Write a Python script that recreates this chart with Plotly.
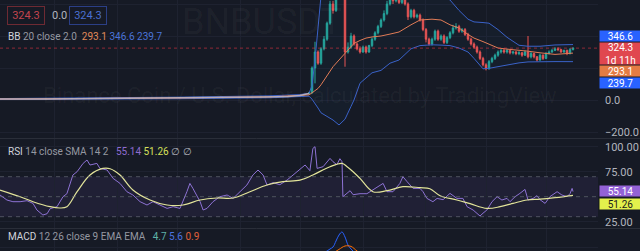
import plotly.graph_objects as go

W, H = 640, 251
PLOT_W = 598

# ---------------- data ----------------
early_bar = [0, 8, 16, 24, 32, 40, 48, 56, 64, 72, 80, 88, 96, 100, 103]
early_close = [6, 5, 7, 8, 9, 11, 14, 13, 16, 15, 17, 19, 22, 28, 40]

first_candle_bar = 103
opens = [40, 44, 200, 300, 230, 320, 380, 480, 600, 560, 700, 650, 720, 300, 330, 400, 350, 320, 300, 330,
         300, 340, 380, 420, 460, 500, 540, 600, 650, 620, 660, 610, 640, 600, 520, 560, 520, 530, 500, 440,
         380, 350, 380, 430, 380, 400, 360, 390, 420, 450, 460, 430, 440, 410, 380, 350, 330, 300, 260, 220,
         195, 240, 260, 280, 300, 310, 300, 310, 295, 300, 290, 295, 280, 300, 270, 290, 270, 250, 280, 260,
         290, 300, 310, 320, 315, 300, 310, 290, 315]
highs = [50, 210, 364, 310, 330, 400, 490, 620, 620, 720, 720, 760, 740, 360, 420, 410, 360, 335, 340, 340,
         345, 390, 430, 470, 510, 560, 620, 680, 660, 680, 670, 660, 650, 610, 570, 570, 540, 540, 510, 450,
         390, 390, 440, 440, 410, 410, 400, 430, 470, 480, 470, 450, 450, 420, 390, 360, 340, 310, 270, 230,
         250, 270, 290, 310, 320, 320, 320, 315, 305, 305, 305, 300, 310, 400, 300, 295, 275, 290, 285, 300,
         310, 320, 330, 330, 320, 315, 315, 325, 330]
lows = [38, 40, 104, 220, 220, 310, 370, 470, 540, 550, 630, 640, 208, 290, 320, 340, 310, 290, 295, 290,
        295, 330, 370, 410, 450, 490, 530, 590, 600, 610, 600, 600, 590, 500, 510, 510, 510, 490, 430, 360,
        340, 340, 370, 370, 370, 350, 350, 380, 410, 440, 420, 420, 400, 370, 340, 320, 290, 250, 210, 185,
        190, 230, 250, 270, 290, 290, 290, 285, 285, 280, 280, 270, 275, 260, 260, 260, 240, 245, 250, 255,
        285, 295, 305, 305, 295, 295, 280, 285, 310]
closes = [44, 200, 300, 230, 320, 380, 480, 600, 560, 700, 650, 720, 300, 330, 400, 350, 320, 300, 330, 300,
          340, 380, 420, 460, 500, 540, 600, 650, 620, 660, 610, 640, 600, 520, 560, 520, 530, 500, 440, 380,
          350, 380, 430, 380, 400, 360, 390, 420, 450, 460, 430, 440, 410, 380, 350, 330, 300, 260, 220, 195,
          240, 260, 280, 300, 310, 300, 310, 295, 300, 290, 295, 280, 300, 270, 290, 270, 250, 280, 260, 290,
          300, 310, 320, 315, 300, 310, 290, 315, 324.3]

bb_bar = [0, 30, 60, 90, 100, 103, 104, 105, 106, 107, 109, 111, 113, 115, 117, 118, 120, 122, 124, 127,
          130, 133, 137, 140, 144, 147, 150, 153, 156, 158, 161, 163, 166, 169, 173, 176, 180, 185, 191]
bb_basis = [6, 9, 13, 20, 26, 32, 45, 60, 72, 95, 150, 208, 250, 292, 335, 354, 372, 387, 394, 400,
            412, 425, 470, 500, 505, 500, 470, 450, 410, 387, 365, 350, 325, 318, 312, 305, 295, 285, 293.1]
bb_upper = [9, 13, 18, 26, 34, 42, 90, 250, 450, 650, 800, 880, 920, 950, 960, 960, 960, 950, 930, 900,
            880, 860, 820, 780, 730, 660, 625, 560, 505, 488, 484, 480, 440, 392, 342, 336, 336, 344, 346.6]
bb_lower = [3, 5, 8, 14, 20, 24, 5, -20, -50, -80, -105, -125, -156, -120, -40, 0, 105, 140, 170, 185,
            230, 250, 320, 340, 345, 343, 340, 325, 300, 260, 195, 198, 208, 222, 232, 238, 240, 240, 239.7]

rsi_bar = [0, 2.3, 4.3, 6.7, 9, 11, 12.3, 14.3, 15.7, 16.7, 19, 21, 22.3, 24.3, 25.7, 27.7, 29, 30, 32.3, 33.3,
           35.7, 37.7, 40, 42.3, 44.3, 46.7, 49, 51, 53.3, 55.7, 57.7, 60, 62.3, 63.3, 64.3, 66.7, 67.7, 69, 71,
           73.3, 75.7, 77.7, 80, 82.3, 84.3, 86, 87.7, 89, 91, 93.3, 95.7, 97.7, 100, 101.7, 103.3, 104.3, 105,
           105.7, 107.7, 110, 111, 112.3, 113.3, 114, 114.3, 115.7, 116.7, 117.7, 120, 122.3, 124.3, 125.7,
           127.7, 129, 131, 133.3, 134.3, 135.7, 137.7, 140, 141, 142.3, 144.3, 145.7, 147.7, 150, 152.3, 154.3,
           155.7, 157.7, 160, 161, 162.3, 164, 165.7, 167.3, 169, 170, 171.7, 173.3, 175, 176, 177.7, 179, 180,
           181.7, 183.3, 185.7, 187.3, 189, 190, 190.7, 191]
rsi_val = [51.7, 46.7, 45, 45, 46, 43.3, 36.7, 31.7, 33, 38, 40, 50, 53, 71.7, 75, 83.3, 86.7, 81.7, 83.3, 78.3,
           76.7, 68.3, 63.3, 55, 51.7, 45, 41.7, 45, 41.7, 38.3, 40, 38.3, 55, 63.3, 58.3, 45, 36.7, 38.3, 45,
           50, 51.7, 48.3, 55, 61.7, 71.7, 76.7, 71.7, 61.7, 64, 62, 66.7, 71.7, 78.3, 81.7, 76, 98.3, 100,
           78.3, 80, 88.3, 85, 82, 88, 85, 50, 53, 56, 52, 53, 53, 56.7, 60,
           63.3, 55, 55, 63.3, 70, 65, 58.3, 58.3, 55, 48.3, 45, 48.3, 47, 53.3, 48.3, 48.3,
           40, 36.7, 30.7, 33.5, 36.7, 45, 50, 46.7, 48.3, 45, 50, 53.3, 57.3, 46.7, 48.3, 51, 47,
           43.3, 50, 55, 51.7, 50, 53, 58.3, 55.14]
rsi_sma_bar = [0, 6.7, 11, 16.7, 20, 22.3, 25.7, 30, 34.3, 36.7, 40, 44.3, 50, 55.7, 61, 66.7, 72.3, 77.7, 83.3,
               89, 94.3, 100, 104.3, 110, 114, 115.7, 117.7, 120, 124.3, 129, 134.3, 140, 143.3, 146.7, 152.3,
               156.7, 162.3, 166.7, 171, 175.7, 180, 185, 189, 191]
rsi_sma_val = [56.7, 50, 45, 40, 38.7, 40, 55, 71.7, 78.3, 78, 71.7, 56.7, 46.7, 41.7, 41.7, 46.7, 48.7, 48.7, 55,
               61.7, 65, 66.5, 71.7, 80, 83.3, 80, 75, 68.3, 55, 56, 60, 59, 58, 51, 46.7,
               43, 38.3, 40, 43.3, 46.7, 47.5, 49, 50.5, 51.26]

macd_bar = [105, 108, 110, 111, 112, 113, 114, 115, 116, 117, 119]
macd_val = [40, 70, 90, 100, 130, 160, 175, 150, 110, 90, 60]
signal_bar = [108, 111, 113, 115, 117, 119, 121]
signal_val = [50, 70, 88, 105, 103, 80, 60]

price_ticks = [600, 400, 200, 0, -200]
price_tick_text = ["600.0", "", "", "0.0", "\u2212200.0"]
rsi_ticks = [100, 75, 50, 25]
rsi_tick_text = ["100.00", "75.00", "", "25.00"]
macd_ticks = [100]
macd_tick_text = ["100.0"]
rsi_levels = [70, 50, 30]
grid_bars = [18.3, 39, 59.3, 80, 100, 121, 141.7, 162.3, 182.3]
last_price = 324.3
macd_last, signal_last, hist_last = 4.7, 5.6, 0.9

# ---------------- styling ----------------
BG = "#161a25"
GRID = "#1e2230"
TXT = "#b2b5be"
UP, DOWN = "#26a69a", "#ef5350"
BLUE, ORANGE = "#3a62c8", "#e07b56"
RSI_C, SMA_C = "#8d72d4", "#e2e49a"
FONT = "Roboto"

candle_bars = list(range(first_candle_bar, first_candle_bar + len(closes)))

fig = go.Figure()

fig.add_trace(go.Scatter(x=bb_bar, y=bb_upper, mode="lines", line=dict(color=BLUE, width=1),
                         xaxis="x", yaxis="y", hoverinfo="skip"))
fig.add_trace(go.Scatter(x=bb_bar, y=bb_lower, mode="lines", line=dict(color=BLUE, width=1),
                         fill="tonexty", fillcolor="rgba(33,150,243,0.03)",
                         xaxis="x", yaxis="y", hoverinfo="skip"))
fig.add_trace(go.Scatter(x=bb_bar, y=bb_basis, mode="lines", line=dict(color=ORANGE, width=1),
                         xaxis="x", yaxis="y", hoverinfo="skip"))

fig.add_trace(go.Scatter(x=early_bar, y=early_close, mode="lines", line=dict(color="#b9aab4", width=1.5),
                         xaxis="x", yaxis="y", hoverinfo="skip"))

fig.add_trace(go.Candlestick(x=candle_bars, open=opens, high=highs, low=lows, close=closes,
                             increasing=dict(line=dict(color=UP, width=1), fillcolor=UP),
                             decreasing=dict(line=dict(color=DOWN, width=1), fillcolor=DOWN),
                             whiskerwidth=0, xaxis="x", yaxis="y", hoverinfo="skip"))

fig.add_trace(go.Scatter(x=rsi_bar, y=rsi_val, mode="lines", line=dict(color=RSI_C, width=1),
                         xaxis="x2", yaxis="y2", hoverinfo="skip"))
fig.add_trace(go.Scatter(x=rsi_sma_bar, y=rsi_sma_val, mode="lines",
                         line=dict(color=SMA_C, width=1.2, shape="spline"),
                         xaxis="x2", yaxis="y2", hoverinfo="skip"))

fig.add_trace(go.Scatter(x=macd_bar, y=macd_val, mode="lines", line=dict(color="#2962ff", width=1, shape="spline"),
                         xaxis="x3", yaxis="y3", hoverinfo="skip"))
fig.add_trace(go.Scatter(x=signal_bar, y=signal_val, mode="lines", line=dict(color="#ff6d00", width=1, shape="spline"),
                         xaxis="x3", yaxis="y3", hoverinfo="skip"))


def py(ypx):
    return 1 - ypx / H


def px(xpx):
    return xpx / PLOT_W


xr = [0, PLOT_W / 3]
xcommon = dict(range=xr, showticklabels=False, showgrid=True, gridcolor=GRID, gridwidth=1,
               tickvals=grid_bars, zeroline=False, showline=False, ticks="", fixedrange=True)
ycommon = dict(side="right", showgrid=True, gridcolor=GRID, zeroline=False, showline=False, ticks="",
               tickfont=dict(family=FONT, size=11, color=TXT), ticklabelstandoff=6)

shapes = []
shapes.append(dict(type="rect", xref="paper", yref="y2", x0=0, x1=1, y0=min(rsi_levels), y1=max(rsi_levels),
                   fillcolor="rgba(126,87,194,0.10)", line=dict(width=0), layer="below"))
for lv in rsi_levels:
    shapes.append(dict(type="line", xref="paper", yref="y2", x0=0, x1=1, y0=lv, y1=lv,
                       line=dict(color="rgba(120,123,134,0.55)", width=1, dash="4px,4px")))
shapes.append(dict(type="line", xref="paper", yref="y", x0=0, x1=1, y0=last_price, y1=last_price,
                   line=dict(color="rgba(242,54,69,0.55)", width=1, dash="dot")))
for sep in (138.5, 228.5):
    shapes.append(dict(type="line", xref="paper", yref="paper", x0=0, x1=W / PLOT_W, y0=py(sep), y1=py(sep),
                       line=dict(color="#2a2e39", width=1)))

ann = []


def text(xpx, ypx, t, size=11, color=TXT, xanchor="left", **kw):
    ann.append(dict(x=px(xpx), y=py(ypx), xref="paper", yref="paper", text=t, showarrow=False,
                    xanchor=xanchor, yanchor="middle", font=dict(family=FONT, size=size, color=color), **kw))


def sp(t, c):
    return f"<span style='color:{c}'>{t}</span>"


# watermarks
text(262, 22, "BNBUSDT", size=36, color="rgba(255,255,255,0.045)", xanchor="center")
text(300, 95, "Binance Coin / U.S. Dollar, calculated by TradingView", size=22,
     color="rgba(255,255,255,0.045)", xanchor="center")

# legend rows
text(7, 16, f"{last_price:.1f}", size=11, color="#c2454f", bordercolor="#6e2a33", borderwidth=1,
     borderpad=2, width=32)
text(50, 16, "0.0", size=11, color=TXT)
text(69, 16, f"{last_price:.1f}", size=11, color="#4a6fd0", bordercolor="#2b3f86", borderwidth=1,
     borderpad=2, width=32)
text(6, 37, sp("BB", "#d1d4dc") + " 20 close 2.0  " + sp(f"{bb_basis[-1]:.1f}", "#e08a5a") + " "
     + sp(f"{bb_upper[-1]:.1f}", "#4a74d8") + " " + sp(f"{bb_lower[-1]:.1f}", "#4a74d8"),
     size=10, color="#9598a1")
text(6, 151, sp("RSI", "#d1d4dc") + " 14 close SMA 14 2   " + sp(f"{rsi_val[-1]:.2f}", "#8e6cd0") + " "
     + sp(f"{rsi_sma_val[-1]:.2f}", "#d6e05a") + " " + sp("\u2205 \u2205", TXT), size=10, color="#9598a1")
text(6, 236, sp("MACD", "#d1d4dc") + " 12 26 close 9 EMA EMA   " + sp(f"{macd_last}", "#5fb2a8") + " "
     + sp(f"{signal_last}", "#4d74e0") + " " + sp(f"{hist_last}", "#e0603a"), size=10, color="#9598a1")


def label(ypx, t, bg, fg="#ffffff", h=10):
    ann.append(dict(x=1, y=py(ypx), xref="paper", yref="paper", text=t, showarrow=False,
                    xanchor="left", yanchor="middle", xshift=1, width=41, height=h, bgcolor=bg,
                    borderpad=0, align="center", font=dict(family=FONT, size=10, color=fg)))


label(36, f"{bb_upper[-1]:.1f}", "#2962ff")
label(53.5, f"{last_price:.1f}<br>1d 11h", "#e0474f", h=21)
label(71.5, f"{bb_basis[-1]:.1f}", "#e47c44")
label(83.5, f"{bb_lower[-1]:.1f}", "#2962ff")
label(190.5, f"{rsi_val[-1]:.2f}", "#9362d6")
label(203.5, f"{rsi_sma_val[-1]:.2f}", "#e3f04c", fg="#1a1a1a")

fig.update_layout(
    width=W, height=H, margin=dict(l=0, r=W - PLOT_W, t=0, b=0),
    paper_bgcolor=BG, plot_bgcolor=BG, showlegend=False, hovermode=False,
    xaxis=dict(domain=[0, 1], anchor="y", rangeslider=dict(visible=False), **xcommon),
    xaxis2=dict(domain=[0, 1], anchor="y2", matches="x", **xcommon),
    xaxis3=dict(domain=[0, 1], anchor="y3", matches="x", **xcommon),
    yaxis=dict(domain=[py(138), 1], anchor="x", range=[-237.5, 625], tickvals=price_ticks,
               ticktext=price_tick_text, **ycommon),
    yaxis2=dict(domain=[py(228), py(139)], anchor="x2", range=[18.7, 107.7], tickvals=rsi_ticks,
                ticktext=rsi_tick_text, **ycommon),
    yaxis3=dict(domain=[0, py(229)], anchor="x3", range=[80, 190], tickvals=macd_ticks,
                ticktext=macd_tick_text, **ycommon),
    shapes=shapes, annotations=ann,
)

fig.write_html("out.html")
